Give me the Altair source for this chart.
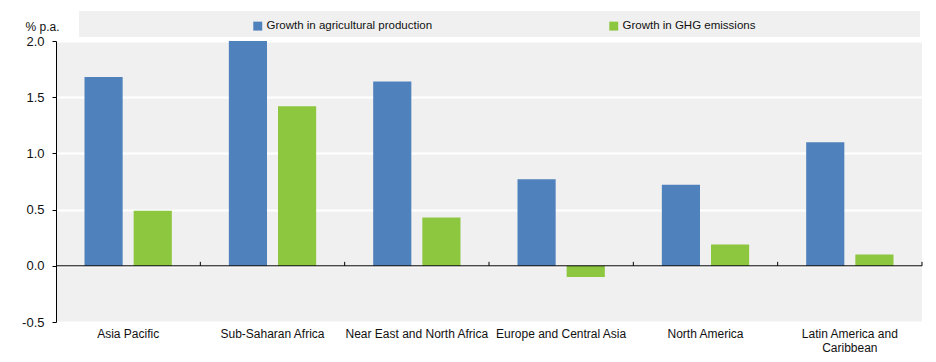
import altair as alt
import pandas as pd

regions = ["Asia Pacific", "Sub-Saharan Africa", "Near East and North Africa",
           "Europe and Central Asia", "North America", "Latin America and Caribbean"]
production = [1.68, 2.00, 1.64, 0.77, 0.72, 1.10]
emissions = [0.49, 1.42, 0.43, -0.10, 0.19, 0.10]
series = ["Growth in agricultural production", "Growth in GHG emissions"]
colors = ["#4f81bd", "#8dc63f"]
y_ticks = [-0.5, 0.0, 0.5, 1.0, 1.5, 2.0]

rows = []
for r, p, e in zip(regions, production, emissions):
    rows.append({"region": r, "series": series[0], "value": p})
    rows.append({"region": r, "series": series[1], "value": e})
df = pd.DataFrame(rows)
df_regions = pd.DataFrame({"region": regions})

font = "Liberation Sans"
txt = "#111111"

x_axis = alt.Axis(
    title=None, ticks=False, domain=False, labelAngle=0, labelFontSize=12,
    labelColor=txt, labelPadding=6, labelFont=font, labelOverlap=False,
    labelBound=False, labelLimit=300, labelLineHeight=14, labelBaseline="top",
    labelExpr="datum.label == 'Latin America and Caribbean' ? ['Latin America and', 'Caribbean'] : datum.label",
)
x_scale = alt.Scale(paddingInner=0, paddingOuter=0)

band = alt.Chart(pd.DataFrame({"k": [0]})).mark_rect(color="#f0f0f0").encode(
    x=alt.value(23), x2=alt.value(864), y=alt.value(-30), y2=alt.value(-4)
)

bars = alt.Chart(df).mark_bar().encode(
    x=alt.X("region:N", sort=regions, scale=x_scale, axis=x_axis),
    xOffset=alt.XOffset("series:N", sort=series,
                        scale=alt.Scale(paddingInner=0.224, paddingOuter=0.58)),
    y=alt.Y("value:Q",
            scale=alt.Scale(domain=[-0.5, 2.0], nice=False, zero=False),
            axis=alt.Axis(values=y_ticks, format=".1f", title="% p.a.",
                          labelExpr="replace(datum.label, '\u2212', '-')",
                          titleAngle=0, titleAlign="left", titleBaseline="middle",
                          titleX=-31, titleY=-15, titleFontSize=12,
                          titleFontWeight="normal", titleFont=font, titleColor=txt,
                          grid=True, gridColor="white", gridWidth=2,
                          domainColor="black", tickColor="black", tickSize=4,
                          labelPadding=8, labelFontSize=13, labelFont=font,
                          labelColor=txt)),
    color=alt.Color("series:N", sort=series,
                    scale=alt.Scale(domain=series, range=colors),
                    legend=alt.Legend(title=None, orient="none", legendX=196,
                                      legendY=-21, direction="horizontal",
                                      symbolType="square", symbolSize=80,
                                      symbolStrokeWidth=0, labelFontSize=11.5,
                                      labelFont=font, labelColor=txt,
                                      labelLimit=400,
                                      columnPadding=175, padding=0, labelOffset=3)),
)

zero = alt.Chart(pd.DataFrame({"k": [0]})).mark_rule(color="black", strokeWidth=1).encode(
    y=alt.datum(0)
)

ticks = alt.Chart(df_regions).mark_rule(color="black", strokeWidth=1).encode(
    x=alt.X("region:N", sort=regions, scale=x_scale, axis=x_axis, bandPosition=1),
    y=alt.datum(0),
    y2=alt.datum(0.035),
)

chart = alt.layer(band, bars, zero, ticks).properties(
    width=866, height=281,
    autosize=alt.AutoSizeParams(type="none"),
    padding={"left": 48, "top": 33, "right": 6, "bottom": 32},
    background="white",
).configure_view(fill="#f0f0f0", strokeWidth=0)

chart.save("out.html", embed_options={"renderer": "svg", "actions": False})
